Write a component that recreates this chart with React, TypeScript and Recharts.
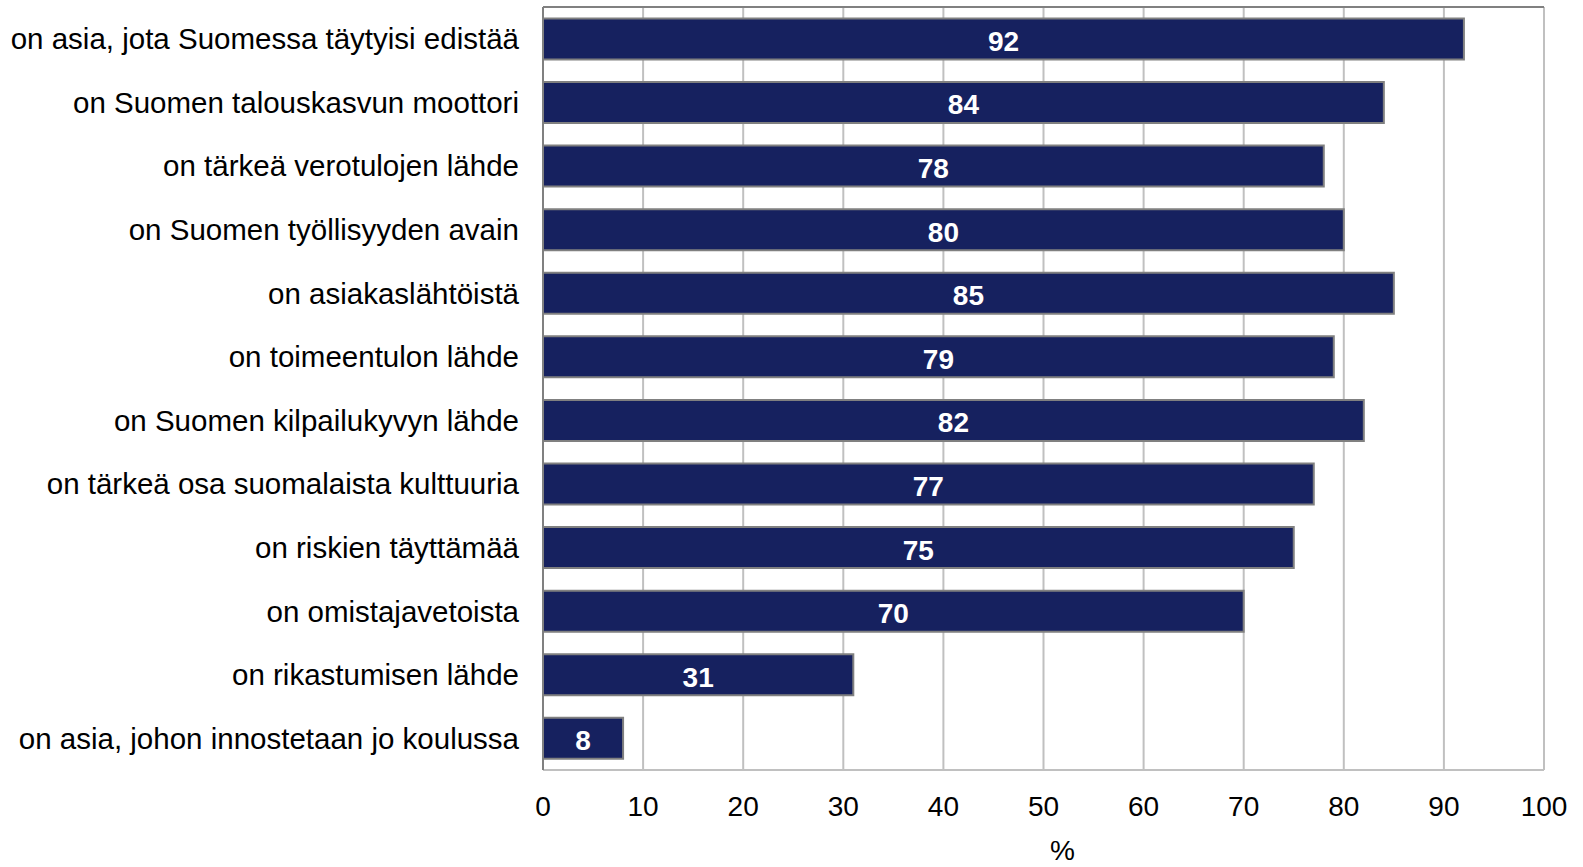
import { Bar, BarChart, CartesianGrid, LabelList, XAxis, YAxis } from "recharts";

const categories = [
  "on asia, jota Suomessa täytyisi edistää",
  "on Suomen talouskasvun moottori",
  "on tärkeä verotulojen lähde",
  "on Suomen työllisyyden avain",
  "on asiakaslähtöistä",
  "on toimeentulon lähde",
  "on Suomen kilpailukyvyn lähde",
  "on tärkeä osa suomalaista kulttuuria",
  "on riskien täyttämää",
  "on omistajavetoista",
  "on rikastumisen lähde",
  "on asia, johon innostetaan jo koulussa",
];

const values = [92, 84, 78, 80, 85, 79, 82, 77, 75, 70, 31, 8];

const xTicks = [0, 10, 20, 30, 40, 50, 60, 70, 80, 90, 100];

const data = categories.map((name, i) => ({ name, value: values[i] }));

const font = "'Liberation Sans', Arial, sans-serif";

export default function App() {
  return (
    <div style={{ position: "absolute", left: 0, top: 0, fontFamily: font }}>
      <BarChart
        width={1583}
        height={867}
        data={data}
        layout="vertical"
        margin={{ top: 7, right: 39, left: 0, bottom: 0 }}
        barCategoryGap="18%"
      >
        <CartesianGrid horizontal={false} stroke="#c0c0c0" strokeWidth={2} />
        {/* darker top border of the plot area */}
        <CartesianGrid
          vertical={false}
          stroke="#808080"
          strokeWidth={2}
          horizontalCoordinatesGenerator={({ offset }: any) => [offset.top]}
        />
        <XAxis
          type="number"
          domain={[0, 100]}
          ticks={xTicks}
          tickLine={false}
          tickSize={0}
          tickMargin={26}
          height={97}
          axisLine={{ stroke: "#c0c0c0", strokeWidth: 2 }}
          tick={{ fill: "#000", fontSize: 28, fontFamily: font }}
          label={{ value: "%", position: "insideBottom", offset: 7, dx: 19, fill: "#000", fontSize: 28, fontFamily: font }}
        />
        <YAxis
          type="category"
          dataKey="name"
          width={543}
          tickLine={false}
          tickSize={0}
          tickMargin={24}
          axisLine={{ stroke: "#808080", strokeWidth: 2 }}
          tick={{ fill: "#000", fontSize: 29.5, fontFamily: font }}
        />
        <Bar dataKey="value" fill="#16215f" stroke="#808080" strokeWidth={2} isAnimationActive={false}>
          <LabelList
            dataKey="value"
            position="center"
            fill="#fff"
            fontSize={28}
            fontWeight="bold"
            fontFamily={font}
            dy={2}
          />
        </Bar>
      </BarChart>
    </div>
  );
}
